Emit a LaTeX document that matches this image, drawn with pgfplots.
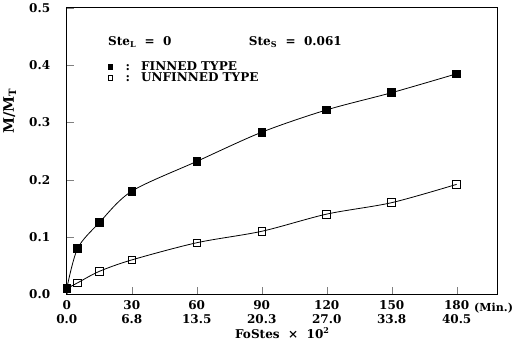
\documentclass[border=0pt]{standalone}
\usepackage{pgfplots}
\pgfplotsset{compat=1.18}
\usepackage{fontspec}
\setmainfont{DejaVu Serif}
\begin{document}
\begin{tikzpicture}
\begin{axis}[
  scale only axis, width=429pt, height=285pt,
  xmin=0, xmax=199, ymin=0, ymax=0.5,
  axis line style={line width=0.9pt},
  tick pos=left, tick align=inside,
  xtick={0,30,60,90,120,150,180},
  xticklabels={0\\0.0, 30\\6.8, 60\\13.5, 90\\20.3, 120\\27.0, 150\\33.8, 180\\40.5},
  xticklabel style={align=center, font=\bfseries\large, yshift=-3pt},
  ytick={0,0.1,0.2,0.3,0.4,0.5},
  yticklabel style={font=\bfseries\large, xshift=-13pt, /pgf/number format/fixed, /pgf/number format/fixed zerofill, /pgf/number format/precision=1},
  /pgf/number format/assume math mode=true,
  major tick length=7pt,
  xlabel={\bfseries\large FoStes\ \ ×\ \ 10\textsuperscript{2}},
  xlabel style={yshift=3pt},
  ylabel={\bfseries\Large M/M\textsubscript{T}},
  ylabel style={at={(ticklabel cs:0.64)}, yshift=6pt},
  legend style={draw=none, fill=none, at={(axis cs:19,0.405)}, anchor=north west, font=\bfseries\large, row sep=2pt, legend cell align=left, inner sep=0pt, nodes={inner sep=0pt, text height=8pt, text depth=1pt}},
  legend image code/.code={\draw[#1, mark size=2.2pt] plot coordinates {(2.2pt,0)};},
  clip=false,
]
\addplot[black, thick, smooth, mark=square*, mark size=3.8pt, mark options={solid}] coordinates {
(0,0.010) (5,0.080) (15,0.125) (30,0.180) (60,0.232) (90,0.283) (120,0.322) (150,0.352) (180,0.385)};
\addlegendentry{\hspace{13pt}:\hspace{11pt}FINNED TYPE}
\addplot[black, thick, smooth, mark=square, mark size=3.8pt, mark options={solid, fill=white}] coordinates {
(0,0.010) (5,0.020) (15,0.040) (30,0.060) (60,0.090) (90,0.110) (120,0.140) (150,0.160) (180,0.192)};
\addlegendentry{\hspace{13pt}:\hspace{11pt}UNFINNED TYPE}
\node[anchor=west, font=\bfseries\large, inner sep=0pt] at (axis cs:19,0.44) {Ste\textsubscript{L}\ \ =\ \ 0};
\node[anchor=west, font=\bfseries\large, inner sep=0pt] at (axis cs:84,0.44) {Ste\textsubscript{S}\ \ =\ \ 0.061};
\node[anchor=west, font=\bfseries\fontsize{11}{13}\selectfont, inner sep=0pt] at (axis cs:188,-0.025) {(Min.)};
\end{axis}
\path ([xshift=-66pt]current axis.south west) -- ([xshift=-66pt]current axis.north west);
\end{tikzpicture}
\end{document}
